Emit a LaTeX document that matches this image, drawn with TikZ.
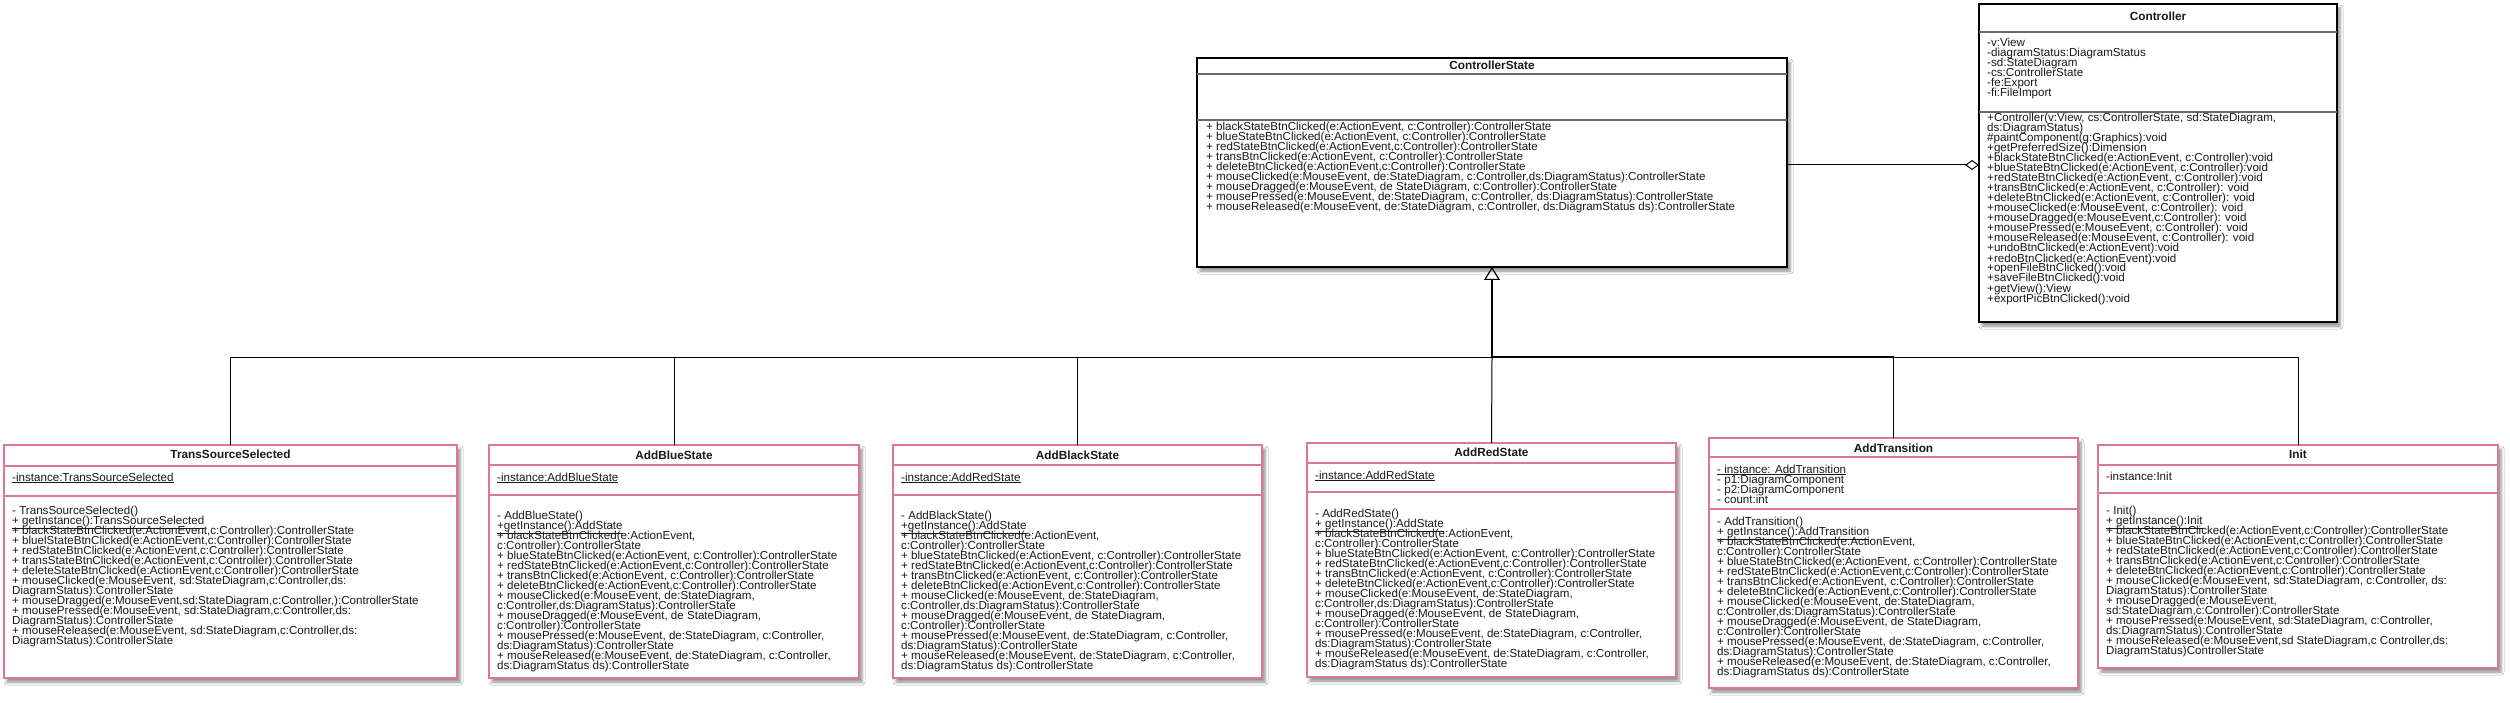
\documentclass[tikz,border=0pt]{standalone}
\usepackage{fontspec}
\setmainfont{Liberation Sans}
\usetikzlibrary{arrows.meta,shadows.blur}
\definecolor{umlpink}{RGB}{222,117,157}
\definecolor{sepgray}{RGB}{105,105,105}
\definecolor{textc}{RGB}{25,25,25}
\newcommand{\umllines}[4]{\foreach \umlt [count=\i] in {#4} {\node[txt] (#1\i) at (#2,{#3+10*(\i-1)}) {\umlt};}}
\newcommand{\umllinesm}[4]{\foreach \umlt [count=\i] in #4 {\node[txt] (#1\i) at (#2,{#3+10*(\i-1)}) {\umlt};}}
\newcommand{\sharedmeth}{{+ blackStateBtnClicked(e:ActionEvent,},%
{c:Controller):ControllerState},%
{+ blueStateBtnClicked(e:ActionEvent, c:Controller):ControllerState},%
{+ redStateBtnClicked(e:ActionEvent,c:Controller):ControllerState},%
{+ transBtnClicked(e:ActionEvent, c:Controller):ControllerState},%
{+ deleteBtnClicked(e:ActionEvent,c:Controller):ControllerState},%
{+ mouseClicked(e:MouseEvent, de:StateDiagram,},%
{c:Controller,ds:DiagramStatus):ControllerState},%
{+ mouseDragged(e:MouseEvent, de StateDiagram,},%
{c:Controller):ControllerState},%
{+ mousePressed(e:MouseEvent, de:StateDiagram, c:Controller,},%
{ds:DiagramStatus):ControllerState},%
{+ mouseReleased(e:MouseEvent, de:StateDiagram, c:Controller,},%
{ds:DiagramStatus ds):ControllerState}}
\tikzset{
  box/.style={draw, fill=white, anchor=north west, inner sep=0pt, outer sep=0pt,
    blur shadow={shadow xshift=3pt, shadow yshift=-4pt, shadow blur radius=3pt, shadow opacity=45}},
  blackbox/.style={box, draw=black, line width=1.2pt},
  pinkbox/.style={box, draw=umlpink, line width=2.6pt},
  sepg/.style={draw=sepgray, line width=2pt},
  sepp/.style={draw=umlpink, line width=2.2pt},
  txt/.style={font=\fontsize{11.6pt}{10pt}\selectfont, inner sep=0pt, anchor=base west, text=textc},
  ttl/.style={font=\bfseries\fontsize{11.8pt}{10pt}\selectfont, inner sep=0pt, anchor=base, text=textc},
  conn/.style={draw=black, line width=1pt},
}
\begin{document}
\begin{tikzpicture}[x=1pt,y=-1pt]
\fill[white] (0,0) rectangle (2510,703);
\useasboundingbox (0,0) rectangle (2510,703);

% ---------- ControllerState ----------
\node[blackbox, minimum width=590pt, minimum height=209pt] (cs) at (1197,58) {};
\node[ttl] (cst) at (1492,70) {ControllerState};
\draw[sepg] (1197,74) -- (1787,74);
\draw[sepg] (1197,120) -- (1787,120);
\umllines{csm}{1206}{131}{%
{+ blackStateBtnClicked(e:ActionEvent, c:Controller):ControllerState},%
{+ blueStateBtnClicked(e:ActionEvent, c:Controller):ControllerState},%
{+ redStateBtnClicked(e:ActionEvent,c:Controller):ControllerState},%
{+ transBtnClicked(e:ActionEvent, c:Controller):ControllerState},%
{+ deleteBtnClicked(e:ActionEvent,c:Controller):ControllerState},%
{+ mouseClicked(e:MouseEvent, de:StateDiagram, c:Controller,ds:DiagramStatus):ControllerState},%
{+ mouseDragged(e:MouseEvent, de StateDiagram, c:Controller):ControllerState},%
{+ mousePressed(e:MouseEvent, de:StateDiagram, c:Controller, ds:DiagramStatus):ControllerState},%
{+ mouseReleased(e:MouseEvent, de:StateDiagram, c:Controller, ds:DiagramStatus ds):ControllerState}}

% ---------- Controller ----------
\node[blackbox, minimum width=358pt, minimum height=318pt] (ctl) at (1979,4) {};
\node[ttl] (ctlt) at (2158,21) {Controller};
\draw[sepg] (1979,32) -- (2337,32);
\draw[sepg] (1979,112) -- (2337,112);
\umllines{ctla}{1987}{47}{%
{-v:View},{-diagramStatus:DiagramStatus},{-sd:StateDiagram},{-cs:ControllerState},{-fe:Export},{-fi:FileImport}}
\umllines{ctlm}{1987}{122}{%
{+Controller(v:View, cs:ControllerState, sd:StateDiagram,},%
{ds:DiagramStatus)},%
{\#paintComponent(g:Graphics):void},%
{+getPreferredSize():Dimension},%
{+blackStateBtnClicked(e:ActionEvent, c:Controller):void},%
{+blueStateBtnClicked(e:ActionEvent, c:Controller):void},%
{+redStateBtnClicked(e:ActionEvent, c:Controller):void},%
{+transBtnClicked(e:ActionEvent, c:Controller): void},%
{+deleteBtnClicked(e:ActionEvent, c:Controller): void},%
{+mouseClicked(e:MouseEvent, c:Controller): void},%
{+mouseDragged(e:MouseEvent,c:Controller): void},%
{+mousePressed(e:MouseEvent, c:Controller): void},%
{+mouseReleased(e:MouseEvent, c:Controller): void},%
{+undoBtnClicked(e:ActionEvent):void},%
{+redoBtnClicked(e:ActionEvent):void},%
{+openFileBtnClicked():void},%
{+saveFileBtnClicked():void},%
{+getView():View},%
{+exportPicBtnClicked():void}}

% ---------- TransSourceSelected ----------
\node[pinkbox, minimum width=453pt, minimum height=233pt] (ts) at (4,445) {};
\node[ttl] (tst) at (230.5,458) {TransSourceSelected};
\draw[sepp] (4,466) -- (457,466);
\draw[sepp] (4,496) -- (457,496);
\node[txt] (tsa) at (12,481) {\underline{-instance:TransSourceSelected}};
\umllines{tsm}{12}{514}{%
{- TransSourceSelected()},%
{\underline{+ getInstance():TransSourceSelected}},%
{+ blackStateBtnClicked(e:ActionEvent,c:Controller):ControllerState},%
{+ bluelStateBtnClicked(e:ActionEvent,c:Controller):ControllerState},%
{+ redStateBtnClicked(e:ActionEvent,c:Controller):ControllerState},%
{+ transStateBtnClicked(e:ActionEvent,c:Controller):ControllerState},%
{+ deleteStateBtnClicked(e:ActionEvent,c:Controller):ControllerState},%
{+ mouseClicked(e:MouseEvent, sd:StateDiagram,c:Controller,ds:},%
{DiagramStatus):ControllerState},%
{+ mouseDragged(e:MouseEvent,sd:StateDiagram,c:Controller,):ControllerState},%
{+ mousePressed(e:MouseEvent, sd:StateDiagram,c:Controller,ds:},%
{DiagramStatus):ControllerState},%
{+ mouseReleased(e:MouseEvent, sd:StateDiagram,c:Controller,ds:},%
{DiagramStatus):ControllerState}}

% ---------- AddBlueState ----------
\node[pinkbox, minimum width=370pt, minimum height=233pt] (abs) at (489,445) {};
\node[ttl] (abst) at (674,459) {AddBlueState};
\draw[sepp] (489,465) -- (859,465);
\draw[sepp] (489,495) -- (859,495);
\node[txt] (absa) at (497,481) {\underline{-instance:AddBlueState}};
\umllines{absm}{497}{519}{{- AddBlueState()},{\underline{+getInstance():AddState}}}
\umllinesm{absr}{497}{539}{\sharedmeth}

% ---------- AddBlackState ----------
\node[pinkbox, minimum width=369pt, minimum height=233pt] (abk) at (893,445) {};
\node[ttl] (abkt) at (1077.5,459) {AddBlackState};
\draw[sepp] (893,465) -- (1262,465);
\draw[sepp] (893,495) -- (1262,495);
\node[txt] (abka) at (901,481) {\underline{-instance:AddRedState}};
\umllines{abkm}{901}{519}{{- AddBlackState()},{\underline{+getInstance():AddState}}}
\umllinesm{abkr}{901}{539}{\sharedmeth}

% ---------- AddRedState ----------
\node[pinkbox, minimum width=369pt, minimum height=234pt] (ars) at (1307,443) {};
\node[ttl] (arst) at (1491.5,456) {AddRedState};
\draw[sepp] (1307,463) -- (1676,463);
\draw[sepp] (1307,492) -- (1676,492);
\node[txt] (arsa) at (1315,479) {\underline{-instance:AddRedState}};
\umllines{arsm}{1315}{517}{{- AddRedState()},{\underline{+ getInstance():AddState}}}
\umllinesm{arsr}{1315}{537}{\sharedmeth}

% ---------- AddTransition ----------
\node[pinkbox, minimum width=369pt, minimum height=250pt] (at) at (1709,438) {};
\node[ttl] (att) at (1893.5,452) {AddTransition};
\draw[sepp] (1709,457) -- (2078,457);
\draw[sepp] (1709,509) -- (2078,509);
\umllines{ata}{1717}{473}{{\underline{- instance: AddTransition}},{- p1:DiagramComponent},{- p2:DiagramComponent},{- count:int}}
\umllines{atm}{1717}{525}{{- AddTransition()},{\underline{+ getInstance():AddTransition}}}
\umllinesm{atr}{1717}{545}{\sharedmeth}

% ---------- Init ----------
\node[pinkbox, minimum width=400pt, minimum height=223pt] (init) at (2098,445) {};
\node[ttl] (initt) at (2298,458) {Init};
\draw[sepp] (2098,465) -- (2498,465);
\draw[sepp] (2098,493) -- (2498,493);
\node[txt] (inita) at (2106,480) {-instance:Init};
\umllines{initm}{2106}{514}{%
{- Init()},%
{\underline{+ getInstance():Init}},%
{+ blackStateBtnClicked(e:ActionEvent,c:Controller):ControllerState},%
{+ blueStateBtnClicked(e:ActionEvent,c:Controller):ControllerState},%
{+ redStateBtnClicked(e:ActionEvent,c:Controller):ControllerState},%
{+ transBtnClicked(e:ActionEvent,c:Controller):ControllerState},%
{+ deleteBtnClicked(e:ActionEvent,c:Controller):ControllerState},%
{+ mouseClicked(e:MouseEvent, sd:StateDiagram, c:Controller, ds:},%
{DiagramStatus):ControllerState},%
{+ mouseDragged(e:MouseEvent,},%
{sd:StateDiagram,c:Controller):ControllerState},%
{+ mousePressed(e:MouseEvent, sd:StateDiagram, c:Controller,},%
{ds:DiagramStatus):ControllerState},%
{+ mouseReleased(e:MouseEvent,sd StateDiagram,c Controller,ds:},%
{DiagramStatus)ControllerState}}

% ---------- connectors ----------
\coordinate (bus) at (1492,357);
\coordinate (agg) at (0,165);
\draw[conn] (ts.north) |- (bus);
\draw[conn] (abs.north) |- (bus);
\draw[conn] (abk.north) |- (bus);
\draw[conn] (ars.north) -- (bus);
\draw[conn] (at.north) |- (bus);
\draw[conn] (init.north) |- (bus);
\draw[line width=2pt] (bus) -- (bus -| at.north);
\draw[line width=2pt, -{Triangle[open, length=13pt, width=16pt, line width=1.2pt]}] (bus) -- (cs.south);
\draw[conn, -{Diamond[open, length=14pt, width=10pt, line width=1pt]}] (cs.east |- agg) -- (ctl.west |- agg);
\end{tikzpicture}
\end{document}
